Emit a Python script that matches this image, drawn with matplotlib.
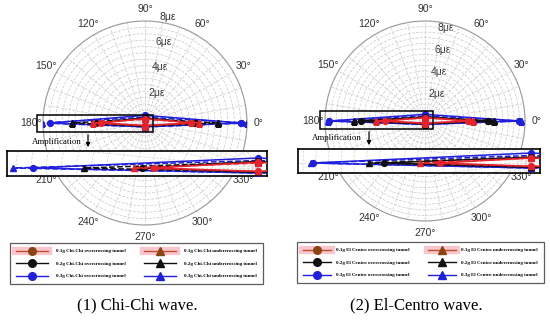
import numpy as np
import matplotlib
matplotlib.use("Agg")
import matplotlib.pyplot as plt
from matplotlib.lines import Line2D
from matplotlib.patches import Rectangle, FancyArrowPatch

# angles of the measured points (deg): 0, 90, 180, 270
angles = [0, 90, 180, 270]
levels = ["0.1g", "0.2g", "0.3g"]

# strain (με) at 0°, 90°, 180°, 270°
chichi_over = {"0.1g": [3.6, 0.35, 3.45, 0.20],
               "0.2g": [3.9, 0.40, 3.85, 0.25],
               "0.3g": [7.5, 0.60, 7.45, 0.30]}
chichi_under = {"0.1g": [4.2, 0.30, 4.1, 0.20],
                "0.2g": [5.7, 0.35, 5.75, 0.25],
                "0.3g": [8.0, 0.45, 8.1, 0.30]}
elcentro_over = {"0.1g": [3.9, 0.30, 3.6, 0.20],
                 "0.2g": [5.7, 0.35, 5.8, 0.25],
                 "0.3g": [8.5, 0.60, 8.6, 0.30]}
elcentro_under = {"0.1g": [4.3, 0.30, 4.4, 0.20],
                  "0.2g": [6.2, 0.35, 6.4, 0.25],
                  "0.3g": [8.6, 0.45, 8.7, 0.30]}

line_col = {"0.1g": "#e8222a", "0.2g": "#111111", "0.3g": "#1f1fe0"}
W, H = 550, 323


def box(x0, y0, x1, y1):
    return [x0 / W, 1 - y1 / H, (x1 - x0) / W, (y1 - y0) / H]


plt.rcParams["font.family"] = ["Liberation Sans", "DejaVu Sans"]
fig = plt.figure(figsize=(5.5, 3.23), dpi=100)


def closed(vals):
    th = np.radians(angles + [angles[0]])
    return th, np.array(vals + [vals[0]])


def draw_series(ax, over, under, polar=True):
    for lv in ["0.3g", "0.2g", "0.1g"]:
        for data, mk, ls in [(over, "o", "-"), (under, "^", "--")]:
            th, r = closed(data[lv])
            if polar:
                x, y = th, r
            else:
                x, y = r * np.cos(th), r * np.sin(th)
            ax.plot(x, y, color=line_col[lv], ls=ls, lw=1.1, marker=mk,
                    ms=4.2, mfc=line_col[lv], mec=line_col[lv], zorder=3)


def polar_panel(rect, over, under, rmax):
    ax = fig.add_axes(rect, projection="polar")
    ax.set_ylim(0, rmax)
    ticks = np.arange(0, 360, 10)
    ax.set_xticks(np.radians(ticks))
    ax.set_xticklabels([f"{t}°" if t % 30 == 0 else "" for t in ticks],
                       fontsize=7.5, color="#333333")
    rt = np.arange(0.5, rmax + 0.01, 0.5)
    ax.set_yticks(rt)
    ax.set_yticklabels([f"{int(v)}με" if v in (2, 4, 6, 8) else "" for v in rt],
                       fontsize=7.5, color="#333333")
    ax.set_rlabel_position(82)
    ax.tick_params(axis="x", pad=-2)
    ax.grid(True, color="#c8c8c8", lw=0.5, ls=(0, (4, 2)))
    ax.spines["polar"].set_color("#9a9a9a")
    ax.spines["polar"].set_linewidth(0.8)
    draw_series(ax, over, under, polar=True)
    return ax


def inset_panel(rect, over, under, xlim, ylim):
    ax = fig.add_axes(rect)
    ax.set_facecolor("white")
    # stretched polar grid
    t = np.linspace(np.pi * 0.5, np.pi * 1.5, 400)
    for r in np.arange(0.5, 10.01, 0.5):
        ax.plot(r * np.cos(t), r * np.sin(t), color="#d5d5d5", lw=0.5,
                ls=(0, (4, 2)), zorder=1)
    for a in np.arange(90, 271, 10):
        ar = np.radians(a)
        ax.plot([0, 12 * np.cos(ar)], [0, 12 * np.sin(ar)], color="#d5d5d5",
                lw=0.5, ls=(0, (4, 2)), zorder=1)
    draw_series(ax, over, under, polar=False)
    ax.set_xlim(*xlim)
    ax.set_ylim(*ylim)
    ax.set_xticks([])
    ax.set_yticks([])
    for s in ax.spines.values():
        s.set_color("black")
        s.set_linewidth(1.2)
    return ax


def legend_panel(rect, wave, hl, htp):
    ax = fig.add_axes(rect)
    ax.axis("off")
    handles, labels = [], []
    for kind, mk in [("overcrossing", "o"), ("undercrossing", "^")]:
        for lv in levels:
            if lv == "0.1g":
                h = (Line2D([], [], color="#f7c6cf", lw=6),
                     Line2D([], [], color="#c0502a", lw=1, marker=mk, ms=5.5,
                            mfc="#8b4513", mec="#8b4513"))
            else:
                h = Line2D([], [], color=line_col[lv], lw=1, marker=mk, ms=5.5)
            handles.append(h)
            labels.append(f"{lv} {wave} {kind} tunnel")
    leg = ax.legend(handles, labels, ncol=2, loc="center", mode="expand",
                    bbox_to_anchor=(0, 0, 1, 1), borderaxespad=0,
                    prop={"family": "Liberation Serif", "weight": "bold", "size": 3.6},
                    handlelength=hl, handletextpad=htp, labelspacing=1.6,
                    borderpad=1.2, columnspacing=1.0,
                    fancybox=False, edgecolor="#333333")
    leg.get_frame().set_linewidth(0.9)


def amplify(rect_px, arrow_x, text_xy, y_from, y_to):
    x0, y0, x1, y1 = rect_px
    fig.add_artist(Rectangle((x0 / W, 1 - y1 / H), (x1 - x0) / W, (y1 - y0) / H,
                             transform=fig.transFigure, fill=False,
                             ec="black", lw=1.1, zorder=5))
    fig.add_artist(FancyArrowPatch(
        (arrow_x / W, 1 - y_from / H), (arrow_x / W, 1 - y_to / H),
        transform=fig.transFigure, arrowstyle="-|>", mutation_scale=6,
        color="black", lw=0.9))
    fig.text(text_xy[0] / W, 1 - text_xy[1] / H, "Amplification",
             family="Liberation Serif", fontsize=6.3, ha="left", va="center")


# left: Chi-Chi
polar_panel(box(43, 21, 247, 225), chichi_over, chichi_under, 8)
amplify((37, 115, 153, 132), 88, (32, 142), 132, 150)
inset_panel(box(7, 151, 267, 176), chichi_over, chichi_under, (-8.3, 0.3), (-0.48, 1.02))
legend_panel(box(10, 244, 263, 283), "Chi-Chi", 6.4, 1.6)
fig.text(137 / W, 1 - 305 / H, "(1) Chi-Chi wave.", family="Liberation Serif",
         fontsize=12, ha="center", va="center")

# right: El-Centro
polar_panel(box(325, 21, 525, 221), elcentro_over, elcentro_under, 9)
amplify((320, 111, 433, 129), 369, (312, 138), 129, 148)
inset_panel(box(298, 149, 540, 173), elcentro_over, elcentro_under, (-9.2, 0.35), (-0.6, 0.84))
legend_panel(box(297, 244, 544, 281), "El Centro", 5.6, 1.0)
fig.text(416 / W, 1 - 305 / H, "(2) El-Centro wave.", family="Liberation Serif",
         fontsize=12, ha="center", va="center")

fig.savefig("out.png", dpi=100)
